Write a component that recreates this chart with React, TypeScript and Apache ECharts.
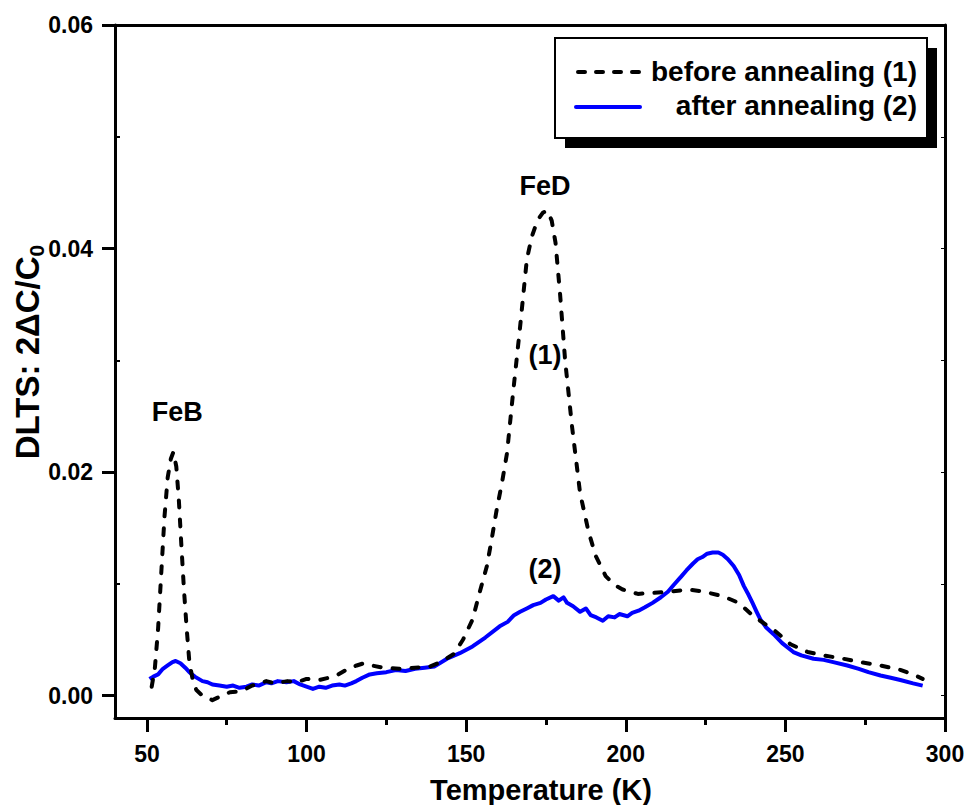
import React, { useEffect, useRef } from "react";
import * as echarts from "echarts";

// Temperature (K), DLTS 2ΔC/C0 — before annealing (1)
const beforeAnnealing: [number, number][] = [
  [51.5, 0.0008], [52.5, 0.0025], [53.5, 0.006], [54.5, 0.011], [55.5, 0.016], [56.5, 0.0195],
  [57.5, 0.0212], [58.3, 0.0218], [59.2, 0.0205], [60, 0.0175], [60.8, 0.0134], [61.6, 0.0095],
  [62.4, 0.0062], [63.3, 0.003], [64.5, 0.0012], [65.5, 0.0005], [67, 0.0001], [69, -0.0002],
  [70.5, -0.0004], [72, -0.0002], [73.6, 0.0], [76, 0.0003], [79.6, 0.0004], [83, 0.0009],
  [87.4, 0.0013], [90, 0.0011], [94, 0.0013], [97, 0.0012], [100, 0.0015], [104, 0.0014],
  [107, 0.0016], [110, 0.0019], [113, 0.0024], [115.7, 0.0027], [118, 0.0029], [120.4, 0.0027],
  [124, 0.0025], [129, 0.0024], [134, 0.0025], [138.6, 0.0026], [142, 0.003], [146, 0.0037],
  [149, 0.005], [152, 0.0068], [154, 0.009], [156.5, 0.0116], [158, 0.014], [159.6, 0.0167],
  [161.2, 0.019], [162.8, 0.0217], [164.7, 0.0271], [166.9, 0.033], [169, 0.039], [170.5, 0.041],
  [172.3, 0.0425], [174, 0.0432], [175.4, 0.0434], [176.8, 0.0425], [178, 0.0405], [179.4, 0.036],
  [181, 0.03], [183.2, 0.024], [185.7, 0.0181], [188.4, 0.0146], [190.6, 0.0125], [193.7, 0.0107],
  [196.5, 0.0099], [199, 0.0095], [203.8, 0.0091], [208.7, 0.0092], [214, 0.0093], [219.4, 0.0095],
  [224.5, 0.0093], [230.4, 0.0089], [235.4, 0.0083], [240, 0.0071], [246.3, 0.0059], [251.6, 0.0046],
  [257, 0.0039], [262, 0.0036], [268.2, 0.0033], [273.5, 0.003], [279.8, 0.0027], [286, 0.0023],
  [290, 0.0019], [293, 0.0015],
];

// after annealing (2)
const afterAnnealing: [number, number][] = [
  [50.8, 0.0015], [52, 0.0017], [53.5, 0.0019], [55, 0.0024], [56.5, 0.0027], [58, 0.003],
  [59, 0.0031], [60.5, 0.0029], [62, 0.0025], [63.3, 0.0021], [65, 0.0017], [67.4, 0.0013],
  [69, 0.0012], [70.5, 0.001], [72.7, 0.0009], [75, 0.0008], [77, 0.0009], [79, 0.0007],
  [81.2, 0.0008], [83, 0.001], [85, 0.0009], [87.4, 0.0012], [89, 0.0011], [91, 0.0013],
  [93.7, 0.0012], [96, 0.0013], [98, 0.001], [100, 0.0008], [102, 0.0006], [104, 0.0008],
  [106, 0.0007], [108, 0.0009], [110.3, 0.001], [112, 0.0009], [114, 0.0011], [115.6, 0.0013],
  [117.5, 0.0016], [119.8, 0.0019], [122, 0.002], [125, 0.0021], [128, 0.0023], [131, 0.0022],
  [134, 0.0024], [137, 0.0025], [140, 0.0026], [144, 0.0033], [148, 0.0038], [152, 0.0044],
  [156, 0.0052], [160.5, 0.0062], [163, 0.0066], [165, 0.0072], [166.9, 0.0075], [169, 0.0078],
  [171, 0.0081], [173.3, 0.0083], [175, 0.0086], [177.3, 0.0089], [179, 0.0085], [180.5, 0.0088],
  [181.6, 0.0083], [183.5, 0.008], [185.7, 0.0075], [187.5, 0.0078], [189, 0.0072], [190.8, 0.007],
  [192.8, 0.0067], [194.5, 0.0071], [196.5, 0.007], [198, 0.0073], [200.5, 0.0071], [202, 0.0074],
  [204, 0.0076], [206, 0.0079], [208.4, 0.0083], [211, 0.0088], [213.2, 0.0093], [215, 0.0099],
  [217.2, 0.0106], [219, 0.0112], [221, 0.0118], [222.5, 0.0122], [224, 0.0124], [225.5, 0.0127],
  [227.2, 0.0128], [229, 0.0128], [230.4, 0.0126], [232, 0.0122], [233.8, 0.0116], [235.5, 0.0108],
  [237, 0.0098], [238.5, 0.009], [239.7, 0.0083], [241, 0.0075], [242.2, 0.0068], [244, 0.0061],
  [246.3, 0.0055], [249, 0.0047], [252.5, 0.0039], [255, 0.0036], [258.8, 0.0033], [262, 0.0032],
  [265, 0.003], [269.4, 0.0027], [273, 0.0024], [276, 0.0021], [279.8, 0.0018], [283, 0.0016],
  [286, 0.0014], [290, 0.0011], [293, 0.0009],
];

const xTickValues = [50, 100, 150, 200, 250, 300];
const xMinorTickValues = [75, 125, 175, 225, 275];
const yTickValues = [0, 0.02, 0.04, 0.06];
const yMinorTickValues = [0.01, 0.03, 0.05];
const yRightTickValues = [0, 0.01, 0.02, 0.03, 0.04, 0.05, 0.06];

const annotationNames = ["FeB", "FeD", "(1)", "(2)"];
const annotationCoords: [number, number][] = [
  [59.5, 0.0254],
  [174.7, 0.0456],
  [174.7, 0.0305],
  [174.7, 0.0113],
];

const legendNames = ["before annealing (1)", "after annealing (2)"];

const FONT = "'Liberation Sans', Arial, Helvetica, sans-serif";
const X_MIN = 40;
const X_MAX = 300;
const Y_MIN = -0.002;
const Y_MAX = 0.06;

export default function App() {
  const ref = useRef<HTMLDivElement>(null);

  useEffect(() => {
    if (!ref.current) return;
    const chart = echarts.init(ref.current, null, { renderer: "svg" });
    const axisLineStyle = { color: "#000", width: 3 };
    const labelStyle = { color: "#000", fontSize: 23, fontWeight: "bold" as const, fontFamily: FONT };

    const option: any = {
      animation: false,
      backgroundColor: "#fff",
      grid: { left: 115, right: 23, top: 25, bottom: 87, containLabel: false },
      xAxis: [
        {
          type: "value", position: "bottom", min: X_MIN, max: X_MAX,
          axisLine: { show: true, onZero: false, lineStyle: axisLineStyle },
          axisTick: { show: true, inside: false, length: 14, customValues: xTickValues, lineStyle: { color: "#000", width: 3 } },
          axisLabel: { show: true, customValues: xTickValues, margin: 24, ...labelStyle },
          splitLine: { show: false },
        },
        {
          type: "value", position: "bottom", min: X_MIN, max: X_MAX,
          axisLine: { show: false, onZero: false },
          axisTick: { show: true, inside: false, length: 7, customValues: xMinorTickValues, lineStyle: { color: "#000", width: 3 } },
          axisLabel: { show: false },
          splitLine: { show: false },
        },
        {
          type: "value", position: "top", min: X_MIN, max: X_MAX,
          axisLine: { show: true, onZero: false, lineStyle: axisLineStyle },
          axisTick: { show: false },
          axisLabel: { show: false },
          splitLine: { show: false },
        },
      ],
      yAxis: [
        {
          type: "value", position: "left", min: Y_MIN, max: Y_MAX,
          axisLine: { show: true, onZero: false, lineStyle: axisLineStyle },
          axisTick: { show: true, inside: false, length: 13, customValues: yTickValues, lineStyle: { color: "#000", width: 3 } },
          axisLabel: {
            show: true, customValues: yTickValues, margin: 22, ...labelStyle,
            formatter: (v: number) => v.toFixed(2),
          },
          splitLine: { show: false },
        },
        {
          type: "value", position: "left", min: Y_MIN, max: Y_MAX,
          axisLine: { show: false, onZero: false },
          axisTick: { show: true, inside: true, length: 5, customValues: yMinorTickValues, lineStyle: { color: "#000", width: 2 } },
          axisLabel: { show: false },
          splitLine: { show: false },
        },
        {
          type: "value", position: "right", min: Y_MIN, max: Y_MAX,
          axisLine: { show: true, onZero: false, lineStyle: axisLineStyle },
          axisTick: { show: true, inside: true, length: 4, customValues: yRightTickValues, lineStyle: { color: "#000", width: 1 } },
          axisLabel: { show: false },
          splitLine: { show: false },
        },
      ],
      series: [
        {
          name: legendNames[1], type: "line", xAxisIndex: 0, yAxisIndex: 0,
          data: afterAnnealing, showSymbol: false, symbol: "none", z: 2,
          lineStyle: { color: "#0000ff", width: 4, join: "round" },
        },
        {
          name: legendNames[0], type: "line", xAxisIndex: 0, yAxisIndex: 0,
          data: beforeAnnealing, showSymbol: false, symbol: "none", z: 3,
          lineStyle: { color: "#000", width: 4, type: [7, 12], cap: "round", join: "round" },
          markPoint: {
            symbol: "circle", symbolSize: 0, silent: true,
            label: {
              show: true, position: "inside", formatter: "{b}",
              color: "#000", fontSize: 27, fontWeight: "bold", fontFamily: FONT,
            },
            data: annotationNames.map((n, i) => ({ name: n, coord: annotationCoords[i] })),
          },
        },
      ],
      graphic: [
        // axis titles
        {
          type: "text", x: 541, y: 790, silent: true,
          style: {
            text: "Temperature (K)", fill: "#000", fontSize: 29, fontWeight: "bold", fontFamily: FONT,
            align: "center", verticalAlign: "middle",
          },
        },
        {
          type: "text", x: 27, y: 352, rotation: Math.PI / 2, silent: true,
          style: {
            text: "{a|DLTS: 2ΔC/C}{b|0}",
            fill: "#000", fontSize: 33, fontWeight: "bold", fontFamily: FONT,
            align: "center", verticalAlign: "middle",
            rich: {
              a: { fontSize: 33, fontWeight: "bold", fontFamily: FONT, fill: "#000" },
              b: { fontSize: 21, fontWeight: "bold", fontFamily: FONT, fill: "#000", padding: [18, 0, 0, 0] },
            },
          },
        },
        // legend box with shadow
        { type: "rect", silent: true, shape: { x: 565, y: 48, width: 372, height: 100 }, style: { fill: "#000" } },
        { type: "rect", silent: true, shape: { x: 555, y: 38, width: 372, height: 100 }, style: { fill: "#fff", stroke: "#000", lineWidth: 2 } },
        {
          type: "line", silent: true, shape: { x1: 578, y1: 72, x2: 647, y2: 72 },
          style: { stroke: "#000", lineWidth: 4, lineDash: [7, 11], lineCap: "round" },
        },
        {
          type: "text", silent: true, x: 917, y: 71,
          style: { text: legendNames[0], fill: "#000", fontSize: 28, fontWeight: "bold", fontFamily: FONT, align: "right", verticalAlign: "middle" },
        },
        {
          type: "line", silent: true, shape: { x1: 576, y1: 107, x2: 640, y2: 107 },
          style: { stroke: "#0000ff", lineWidth: 4, lineCap: "round" },
        },
        {
          type: "text", silent: true, x: 917, y: 105,
          style: { text: legendNames[1], fill: "#000", fontSize: 28, fontWeight: "bold", fontFamily: FONT, align: "right", verticalAlign: "middle" },
        },
      ],
    };

    chart.setOption(option);
    return () => chart.dispose();
  }, []);

  return (
    <div
      ref={ref}
      style={{ position: "fixed", left: 0, top: 0, width: 968, height: 805, background: "#fff" }}
    />
  );
}
